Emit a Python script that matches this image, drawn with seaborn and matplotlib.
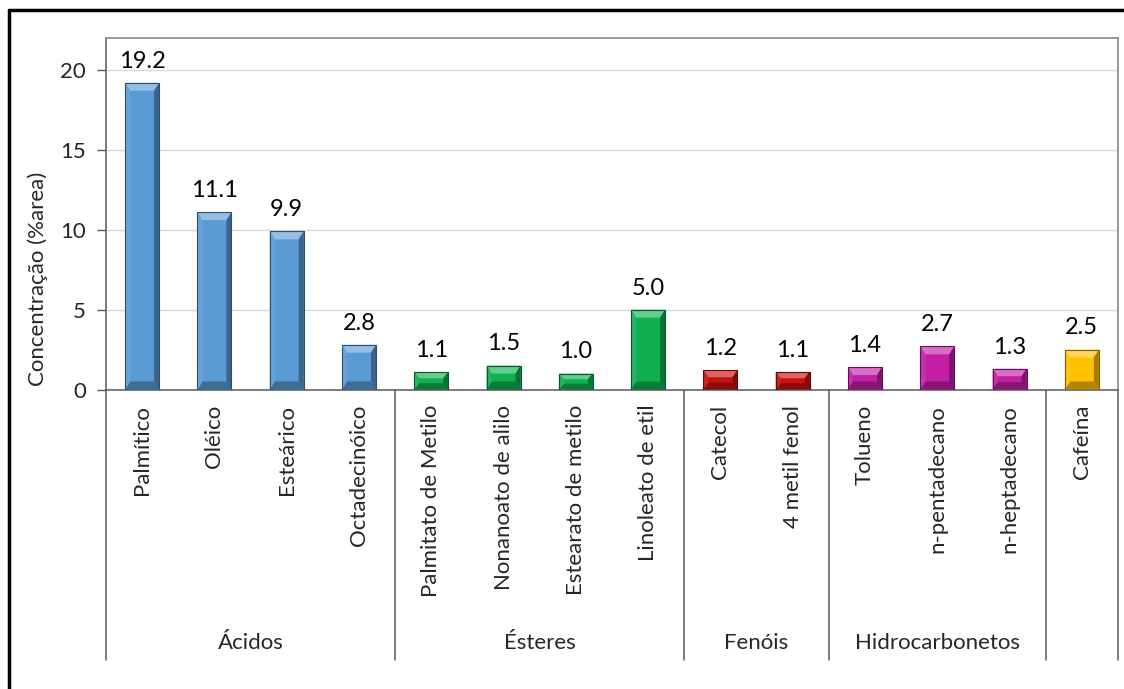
import numpy as np
import pandas as pd
import matplotlib
matplotlib.use("Agg")
import matplotlib.pyplot as plt
import matplotlib.colors as mcolors
from matplotlib.patches import Polygon
from matplotlib.lines import Line2D
import matplotlib.transforms as mtransforms
import seaborn as sns

# Compounds, their chemical class and the GC-MS area percentage
compounds = ["Palmítico", "Oléico", "Esteárico", "Octadecinóico",
             "Palmitato de Metilo", "Nonanoato de alilo", "Estearato de metilo", "Linoleato de etil",
             "Catecol", "4 metil fenol",
             "Tolueno", "n-pentadecano", "n-heptadecano",
             "Cafeína"]
classes = ["Ácidos"] * 4 + ["Ésteres"] * 4 + ["Fenóis"] * 2 + ["Hidrocarbonetos"] * 3 + ["Cafeína"]
values = [19.2, 11.1, 9.9, 2.8,
          1.1, 1.5, 1.0, 5.0,
          1.2, 1.1,
          1.4, 2.7, 1.3,
          2.5]
group_names = ["Ácidos", "Ésteres", "Fenóis", "Hidrocarbonetos", ""]
group_sizes = [4, 4, 2, 3, 1]
class_colors = {"Ácidos": "#5B9BD5", "Ésteres": "#10B050", "Fenóis": "#C81010",
                "Hidrocarbonetos": "#C21FA6", "Cafeína": "#FFC000"}

df = pd.DataFrame({"composto": compounds, "classe": classes, "valor": values})

sns.set_theme(style="white")
plt.rcParams["font.family"] = ["Lato", "DejaVu Sans"]

fig = plt.figure(figsize=(11.24, 6.89), dpi=100)
W, H = 1124, 689
ax_left, ax_right, ax_top, ax_bot = 106, 1118, 38, 389.5
ax = fig.add_axes([ax_left / W, 1 - ax_bot / H, (ax_right - ax_left) / W, (ax_bot - ax_top) / H])

sns.barplot(data=df, x="composto", y="valor", hue="classe", palette=class_colors,
            dodge=False, width=0.47, legend=False, ax=ax, linewidth=0, saturation=1)

ax.set_xlim(-0.5, len(compounds) - 0.5)
ax.set_ylim(0, 22)
ax.set_yticks([0, 5, 10, 15, 20])
ax.yaxis.grid(True, color="#D9D9D9", linewidth=1)
ax.set_axisbelow(True)

# Bevelled look for every bar, built from the bar geometry itself
px_x = (len(compounds)) / (ax_right - ax_left)
px_y = 22 / (ax_bot - ax_top)


def shade(c, amount):
    c = np.array(mcolors.to_rgb(c))
    if amount > 0:
        return tuple(c + (1 - c) * amount)
    return tuple(c * (1 + amount))


for p in list(ax.patches):
    x0, y0 = p.get_x(), p.get_y()
    w, h = p.get_width(), p.get_height()
    if h <= 0:
        continue
    x1, y1 = x0 + w, y0 + h
    base = p.get_facecolor()
    dx = 5.0 * px_x
    dv = min(8.0 * px_y, 0.36 * h)
    faces = [
        ([(x0, y1), (x1, y1), (x1 - dx, y1 - dv), (x0 + dx, y1 - dv)], shade(base, 0.35)),
        ([(x0, y0), (x1, y0), (x1 - dx, y0 + dv), (x0 + dx, y0 + dv)], shade(base, -0.3)),
        ([(x0, y0), (x0 + dx, y0 + dv), (x0 + dx, y1 - dv), (x0, y1)], shade(base, 0.08)),
        ([(x1, y0), (x1 - dx, y0 + dv), (x1 - dx, y1 - dv), (x1, y1)], shade(base, -0.35)),
    ]
    for pts, col in faces:
        ax.add_patch(Polygon(pts, closed=True, facecolor=col, edgecolor="none", zorder=3))
    p.set_zorder(2.5)
    ax.add_patch(plt.Rectangle((x0, y0), w, h, fill=False, edgecolor=shade(base, -0.5),
                               linewidth=0.8, zorder=4))

# Value labels above the bars
for i, v in enumerate(values):
    ax.annotate(f"{v:.1f}", xy=(i, v), xytext=(0, 8), textcoords="offset points",
                ha="center", va="bottom", fontsize=17, color="#000000")

# Axes styling
for side in ["top", "right"]:
    ax.spines[side].set_visible(True)
    ax.spines[side].set_color("#868686")
    ax.spines[side].set_linewidth(1.2)
ax.spines["left"].set_color("#595959")
ax.spines["bottom"].set_color("#595959")
ax.spines["left"].set_linewidth(1.1)
ax.spines["bottom"].set_linewidth(1.1)

ax.tick_params(axis="y", which="major", direction="out", length=6.5, width=1, color="#595959",
               labelsize=16, pad=8, left=True)
ax.tick_params(axis="x", which="major", length=0, labelsize=16, pad=11)
ax.set_xticks(range(len(compounds)))
ax.set_xticklabels(compounds, rotation=90, va="top", ha="center")
ax.set_xlabel("")
ax.set_ylabel("")

fig.text(38 / W, 1 - 279 / H, "Concentração (%area)", rotation=90, ha="center", va="center",
         fontsize=16)

# Group brackets beneath the category labels
trans = mtransforms.blended_transform_factory(ax.transData, ax.transAxes)
sep_bottom = -(660 - ax_bot) / (ax_bot - ax_top)
label_y = -(643 - ax_bot) / (ax_bot - ax_top)
edges = np.concatenate([[0], np.cumsum(group_sizes)]) - 0.5
for e in edges:
    ax.add_line(Line2D([e, e], [0, sep_bottom], transform=trans, color="#595959",
                       linewidth=1.1, clip_on=False))
for name, a, b in zip(group_names, edges[:-1], edges[1:]):
    if name:
        ax.text((a + b) / 2, label_y, name, transform=trans, ha="center", va="center",
                fontsize=16)

# Chart frame
fig.add_artist(Line2D([9 / W, 9 / W], [0, 1 - 10 / H], color="black", linewidth=2.5,
                      transform=fig.transFigure))
fig.add_artist(Line2D([9 / W, 1], [1 - 10 / H, 1 - 10 / H], color="black", linewidth=2.5,
                      transform=fig.transFigure))

fig.savefig("out.png", dpi=100, facecolor="white")
